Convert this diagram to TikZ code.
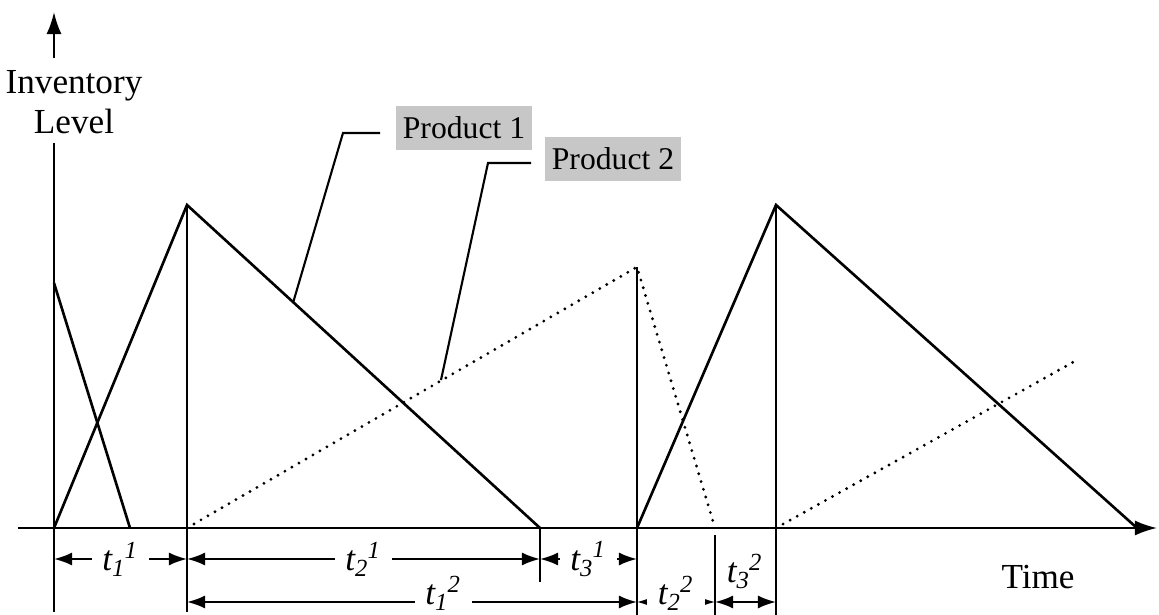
\documentclass[tikz,border=0pt]{standalone}
\usepackage{fontspec}
\setmainfont{Liberation Serif}
\usetikzlibrary{positioning,arrows.meta}
\newcommand{\tlab}[2]{{\itshape t\textsubscript{#1}\kern-0.05em\textsuperscript{#2}}}
\tikzset{
  axis/.style={-{Latex[length=2.2mm,width=1.5mm]}, line width=0.6pt},
  inv/.style={line width=0.75pt},
  invdot/.style={line width=0.9pt, dash pattern=on 0pt off 2.3pt, line cap=round},
  guide/.style={line width=0.6pt},
  dimline/.style={{Latex[length=1.8mm,width=1.3mm]}-{Latex[length=1.8mm,width=1.3mm]}, line width=0.6pt},
  dimlab/.style={fill=white, inner xsep=3pt, inner ysep=0.5pt, font=\fontsize{10}{12}\selectfont},
  prod/.style={fill=black!22, inner sep=2pt, minimum height=4.4mm, font=\fontsize{9}{11}\selectfont},
  lead/.style={line width=0.6pt},
  axlab/.style={font=\fontsize{10}{11.4}\selectfont, align=center, inner sep=0pt},
}
\begin{document}
\begin{tikzpicture}[x=0.01cm,y=-0.01cm]
        \useasboundingbox (0,0) rectangle (1159,615);
        \coordinate (bot)  at (0,612);
        \coordinate (bot2) at (0,615);
        \coordinate (mid)  at (0,582);
        \coordinate (r1)   at (0,559);
        \coordinate (r2)   at (0,602);
        \coordinate (o)  at (54,528);
        \coordinate (a1) at (54,283);
        \coordinate (z1) at (130,528);
        \coordinate (p1) at (187,205);
        \coordinate (e1) at (540,528);
        \coordinate (s2) at (637,528);
        \coordinate (p2) at (776,205);
        \coordinate (e2) at (1137,528);
        \coordinate (q0) at (187,528);
        \coordinate (q1) at (637,267);
        \coordinate (z2) at (715,528);
        \coordinate (q2) at (776,528);
        \coordinate (q3) at (1077,360);
        \coordinate (c1) at (293,303);
        \coordinate (c2) at (441,380);
        \node[axlab] (yl) at (74,102) {Inventory\\Level};
        \node[axlab] (xl) at (1038,577) {Time};
        \node[prod, minimum width=11.5mm] (lab1) at (464,128) {Product 1};
        \node[prod, minimum width=12.7mm] (lab2) at (613,159) {Product 2};
        \draw[axis] (18,528) -- (1157,528);
        \draw[axis] (54,58) -- (54,12);
        \draw[guide] (54,143) -- (o |- bot);
        \draw[inv] (a1) -- (z1);
        \draw[inv] (o) -- (p1) -- (e1);
        \draw[inv] (s2) -- (p2) -- (e2);
        \draw[invdot] (q0) -- (q1) -- (z2);
        \draw[invdot] (q2) -- (q3);
        \draw[guide] (p1) -- (p1 |- bot);
        \draw[guide] (e1) -- (e1 |- mid);
        \draw[guide] (q1) -- (q1 |- bot2);
        \draw[guide] (715,535) -- (z2 |- bot2);
        \draw[guide] (p2) -- (p2 |- bot2);
        \draw[lead] ([xshift=-1.5mm]lab1.west |- 0,133) -- (343,133) -- (c1);
        \draw[lead] ([xshift=-1.3mm]lab2.west |- 0,163) -- (488,163) -- (c2);
        \draw[dimline] (o |- r1) -- node[dimlab] (t11) {\tlab{1}{1}} (p1 |- r1);
        \draw[dimline] (p1 |- r1) -- node[dimlab] (t21) {\tlab{2}{1}} (e1 |- r1);
        \draw[dimline] (e1 |- r1) -- node[dimlab] (t31) {\tlab{3}{1}} (q1 |- r1);
        \draw[dimline] (p1 |- r2) -- node[dimlab, pos=0.57, yshift=0.9mm] (t12) {\tlab{1}{2}} (q1 |- r2);
        \draw[dimline] (q1 |- r2) -- node[dimlab, yshift=0.9mm] (t22) {\tlab{2}{2}} (z2 |- r2);
        \draw[dimline] (z2 |- r2) -- (p2 |- r2);
        \node[dimlab, fill=none] (t32) at (745,571) {\tlab{3}{2}};
      \end{tikzpicture}
\end{document}
